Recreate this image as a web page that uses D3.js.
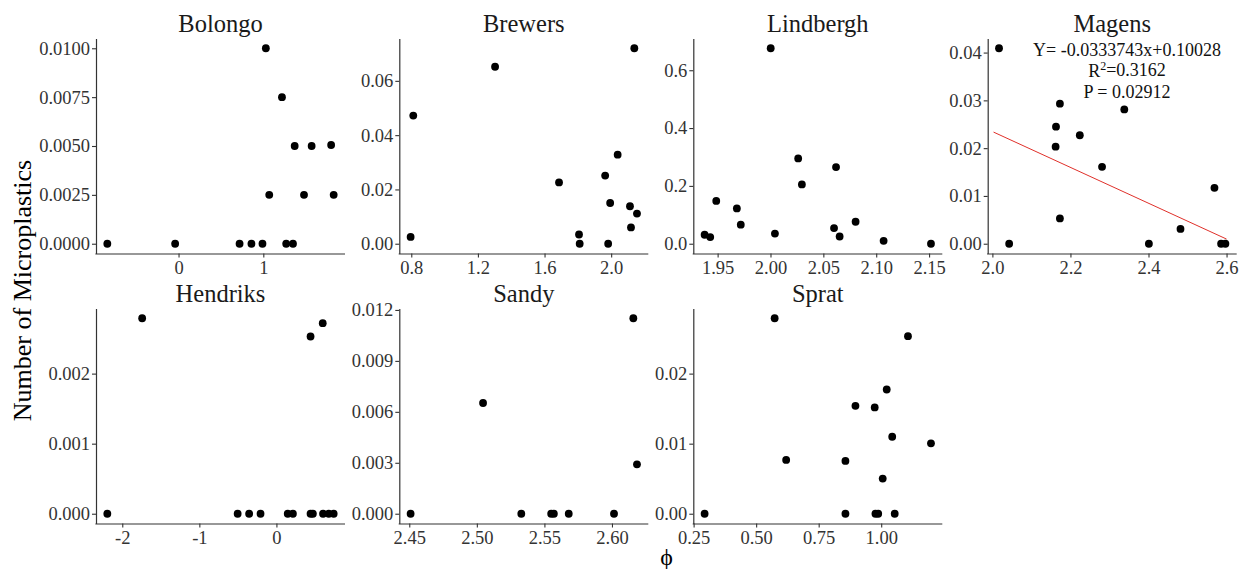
<!DOCTYPE html>
<html><head><meta charset="utf-8">
<script src="https://cdn.jsdelivr.net/npm/d3@7"></script>
<style>
body{margin:0;background:#fff}
svg{display:block}
text{font-family:"Liberation Serif","Times New Roman",serif}
</style></head>
<body><svg id="c" width="1241" height="569"></svg>
<script>
// ---------- data ----------
const panelNames = ["Bolongo","Brewers","Lindbergh","Magens","Hendriks","Sandy","Sprat"];

const bolongoX = [-0.84,-0.04,0.72,0.86,0.99,1.27,1.35,1.03,1.22,1.37,1.57,1.80,1.07,1.48,1.83];
const bolongoY = [0,0,0,0,0,0,0,0.0100,0.0075,0.0050,0.0050,0.00505,0.0025,0.0025,0.0025];

const brewersX = [0.796,0.812,1.303,1.687,1.807,1.811,1.964,1.982,1.994,2.039,2.113,2.119,2.139,2.155];
const brewersY = [0.0025,0.0472,0.0652,0.0226,0.0034,0,0.0251,0,0.0150,0.0328,0.0138,0.0060,0.0720,0.0111];

const lindberghX = [1.9377,1.9430,1.9487,1.9682,1.9719,2.0002,2.0042,2.0262,2.0297,2.0601,2.0620,2.0654,2.0805,2.1070,2.1518];
const lindberghY = [0.031,0.023,0.148,0.122,0.066,0.676,0.035,0.295,0.205,0.054,0.265,0.025,0.076,0.010,0];

const magensX = [2.017,2.043,2.162,2.163,2.173,2.173,2.224,2.281,2.338,2.401,2.482,2.569,2.586,2.597];
const magensY = [0.0409,0,0.0203,0.0245,0.0293,0.0053,0.0227,0.0161,0.0281,0,0.0031,0.0117,0,0];

const hendriksX = [-2.194,-1.742,-0.503,-0.354,-0.206,0.147,0.214,0.443,0.473,0.443,0.601,0.605,0.679,0.743];
const hendriksY = [0,0.00279,0,0,0,0,0,0,0,0.00253,0.00272,0,0,0];

const sandyX = [2.451,2.5046,2.5329,2.555,2.557,2.568,2.6015,2.6158,2.6185];
const sandyY = [0,0.00652,0,0,0,0,0,0.01151,0.00291];

const spratX = [0.294,0.574,0.620,0.857,0.857,0.897,0.974,0.977,0.988,1.006,1.022,1.044,1.054,1.107,1.199];
const spratY = [0,0.0279,0.00768,0.00754,0,0.0154,0.01517,0,0,0.00502,0.01773,0.01099,0,0.02535,0.01005];

// tick values
const xTicks = {
  Bolongo:[0,1], Brewers:[0.8,1.2,1.6,2.0], Lindbergh:[1.95,2.00,2.05,2.10,2.15],
  Magens:[2.0,2.2,2.4,2.6], Hendriks:[-2,-1,0], Sandy:[2.45,2.50,2.55,2.60], Sprat:[0.25,0.50,0.75,1.00]
};
const yTicks = {
  Bolongo:[0,0.0025,0.005,0.0075,0.01], Brewers:[0,0.02,0.04,0.06], Lindbergh:[0,0.2,0.4,0.6],
  Magens:[0,0.01,0.02,0.03,0.04], Hendriks:[0,0.001,0.002], Sandy:[0,0.003,0.006,0.009,0.012], Sprat:[0,0.01,0.02]
};
const xDecimals = {Bolongo:0,Brewers:1,Lindbergh:2,Magens:1,Hendriks:0,Sandy:2,Sprat:2};
const yDecimals = {Bolongo:4,Brewers:2,Lindbergh:1,Magens:2,Hendriks:3,Sandy:3,Sprat:2};

// Magens fitted line and annotation
const magensFitX = [2.003, 2.600];
const magensFitSlope = -0.03749;
const magensFitIntercept = 0.09845;
const magensLabels = ["Y= -0.0333743x+0.10028", "R²=0.3162", "P = 0.02912"];

const xLabel = "ϕ";
const yLabel = "Number of Microplastics";

// ---------- layout ----------
const colLeft = [96, 399.3, 693.3, 987.7];
const rowTop = [38.5, 308.5];
const PW = 249, PH = 215;

const series = {
  Bolongo:[bolongoX,bolongoY], Brewers:[brewersX,brewersY], Lindbergh:[lindberghX,lindberghY],
  Magens:[magensX,magensY], Hendriks:[hendriksX,hendriksY], Sandy:[sandyX,sandyY], Sprat:[spratX,spratY]
};

const svg = d3.select("#c");
const fmt = d => d;

function expand(ext){ const r = ext[1]-ext[0]; return [ext[0]-0.05*r, ext[1]+0.05*r]; }

panelNames.forEach((name,i)=>{
  const col = i % 4, row = Math.floor(i/4);
  const left = colLeft[col], top = rowTop[row];
  const [xs, ys] = series[name];
  const pts = xs.map((x,k)=>({x, y: ys[k]}));
  const x = d3.scaleLinear().domain(expand(d3.extent(xs))).range([0, PW]);
  const y = d3.scaleLinear().domain(expand([Math.min(0,d3.min(ys)), d3.max(ys)])).range([PH, 0]);

  const g = svg.append("g").attr("transform", `translate(${left},${top})`);

  // strip title
  g.append("text").attr("x", PW/2).attr("y", -7).attr("text-anchor","middle")
    .attr("font-size", 24.5).attr("fill","#1a1a1a").text(name);

  const xf = v => v.toFixed(xDecimals[name]);
  const yf = v => v.toFixed(yDecimals[name]);

  const ax = g.append("g").attr("transform", `translate(0,${PH})`)
    .call(d3.axisBottom(x).tickValues(xTicks[name]).tickFormat(xf).tickSize(4).tickSizeOuter(0).tickPadding(3));
  const ay = g.append("g")
    .call(d3.axisLeft(y).tickValues(yTicks[name]).tickFormat(yf).tickSize(4).tickSizeOuter(0).tickPadding(2));
  [ax, ay].forEach(a=>{
    a.attr("font-family", null).attr("font-size", null);
    a.selectAll("text").attr("font-size", 18.5).attr("fill", "#333");
    a.selectAll("line").attr("stroke", "#333").attr("stroke-width", 1.1);
    a.select(".domain").attr("stroke", "#333").attr("stroke-width", 1.2);
  });
  ax.select(".domain").attr("d", `M-0.6,0.5H${PW}`);

  if (name === "Magens") {
    const line = d3.line().x(d=>x(d)).y(d=>y(magensFitSlope*d + magensFitIntercept));
    g.append("path").attr("d", line(magensFitX)).attr("fill","none")
      .attr("stroke","#e0302a").attr("stroke-width",1);
    const ann = g.append("g").attr("font-size", 18).attr("fill", "#111").attr("text-anchor","middle");
    const ax0 = x(2.345), ay0 = y(0.0407);
    ann.append("text").attr("x", ax0).attr("y", ay0).attr("dy","0.35em").text(magensLabels[0]);
    const t2 = ann.append("text").attr("x", ax0).attr("y", ay0 + 21).attr("dy","0.35em");
    const parts = magensLabels[1].split("²");
    t2.append("tspan").text(parts[0]);
    t2.append("tspan").attr("font-size", 12).attr("dy", "-0.55em").text("2");
    t2.append("tspan").attr("dy", "0.35em").text(parts[1]);
    ann.append("text").attr("x", ax0).attr("y", ay0 + 42).attr("dy","0.35em").text(magensLabels[2]);
  }

  g.append("g").selectAll("circle").data(pts).join("circle")
    .attr("cx", d=>x(d.x)).attr("cy", d=>y(d.y)).attr("r", 3.9).attr("fill", "#000");
});

// axis titles
svg.append("text").attr("transform", "translate(31,290.5) rotate(-90)")
  .attr("text-anchor","middle").attr("font-size", 26).attr("fill","#000").text(yLabel);
svg.append("text").attr("x", 666.5).attr("y", 565).attr("text-anchor","middle")
  .attr("font-size", 24).attr("fill","#000").text(xLabel);
</script></body></html>
